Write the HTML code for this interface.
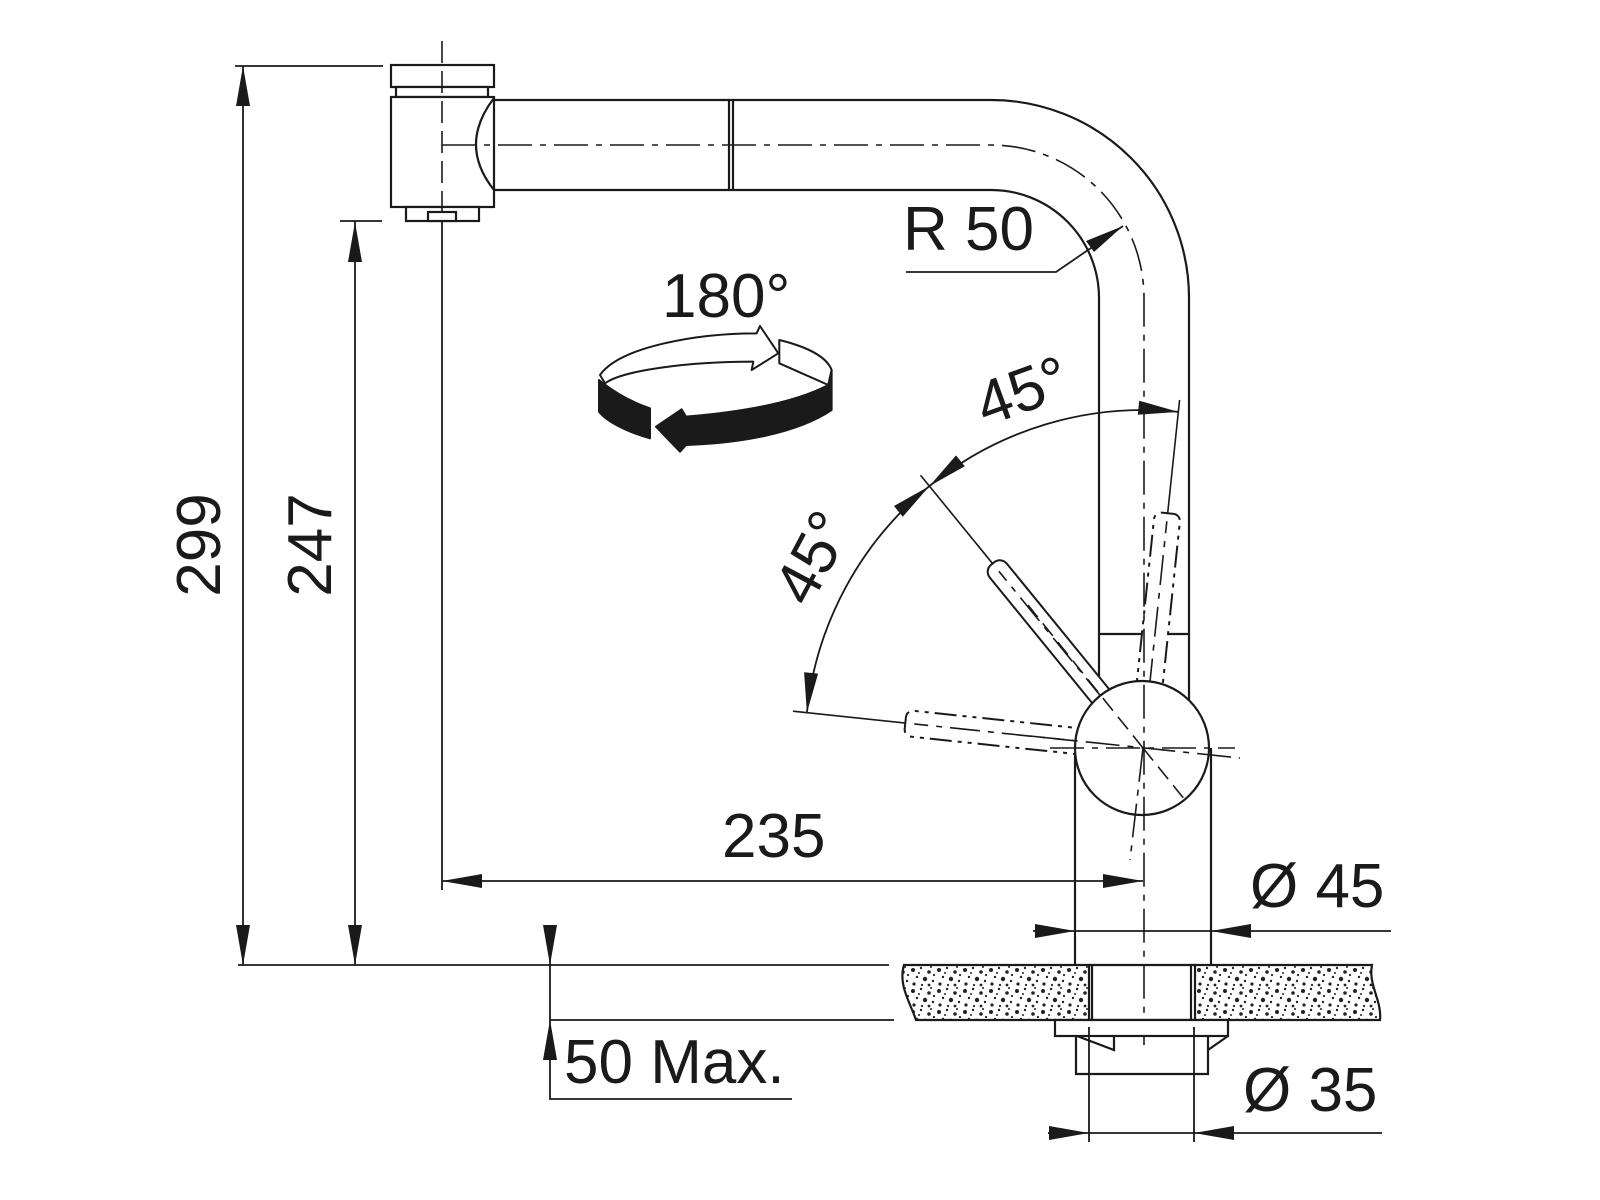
<!DOCTYPE html>
<html><head><meta charset="utf-8"><style>
html,body{margin:0;padding:0;background:#fff;width:1600px;height:1200px;overflow:hidden}
svg{display:block}
text{font-family:"Liberation Sans",Arial,sans-serif;fill:#1a1a1a}
</style></head><body>
<svg width="1600" height="1200" viewBox="0 0 1600 1200" xmlns="http://www.w3.org/2000/svg">
<defs>
<pattern id="sp" width="26" height="21" patternUnits="userSpaceOnUse">
<rect width="26" height="21" fill="#fff"/>
<circle cx="3" cy="4" r="2" fill="#222"/><circle cx="11" cy="2" r="1.2" fill="#222"/>
<circle cx="19" cy="6" r="1.8" fill="#222"/><circle cx="7" cy="11" r="1.2" fill="#222"/>
<circle cx="15" cy="13" r="2.2" fill="#222"/><circle cx="23" cy="15" r="1.2" fill="#222"/>
<circle cx="4" cy="18" r="1.6" fill="#222"/><circle cx="12" cy="19" r="1.1" fill="#222"/>
<circle cx="21" cy="1" r="1" fill="#222"/><circle cx="24" cy="9" r="1.1" fill="#222"/>
<circle cx="9" cy="7" r="1" fill="#222"/><circle cx="19" cy="19" r="1.4" fill="#222"/>
</pattern>
</defs>
<g stroke="#1a1a1a" fill="none" stroke-width="2.2">
<rect x="391" y="65" width="103" height="22" fill="#fff"/>
<rect x="396" y="87" width="92" height="10" fill="#fff"/>
<rect x="391" y="97" width="103" height="110" fill="#fff"/>
<rect x="406" y="207" width="73" height="14" fill="#fff"/>
<rect x="428" y="212" width="28" height="9" fill="#fff"/>
<path d="M494,98 Q458,145 494,190"/>
<path d="M494,100 H991 A198,198 0 0 1 1189,298 V700"/>
<path d="M494,190 H991 A108,108 0 0 1 1099,298 V692"/>
<path d="M729,100 V190 M733,100 V190"/>
<path d="M1099,634 H1189"/>
<path d="M1075,748 V965 M1211,748 V965"/>
</g>
<g stroke="#1a1a1a" fill="#fff" stroke-width="2">
<g transform="translate(1143,748) rotate(-129.2)">
<rect x="40" y="-11" width="198" height="22" rx="9"/>
<line x1="60" y1="0" x2="228" y2="0" stroke-dasharray="30 8 6 8" stroke-width="1.6"/>
<line x1="238" y1="0" x2="352" y2="0" stroke-width="1.6"/>
</g>
<g transform="translate(1143,748) rotate(-174)">
<rect x="40" y="-13" width="199" height="26" rx="7" stroke-dasharray="22 6 4 6 4 6"/>
<line x1="60" y1="0" x2="230" y2="0" stroke-dasharray="30 8 6 8" stroke-width="1.6"/>
<line x1="239" y1="0" x2="352" y2="0" stroke-width="1.6"/>
</g>
<g transform="translate(1143,748) rotate(-84)">
<rect x="40" y="-13" width="196" height="26" rx="7" stroke-dasharray="22 6 4 6 4 6"/>
<line x1="60" y1="0" x2="228" y2="0" stroke-dasharray="30 8 6 8" stroke-width="1.6"/>
<line x1="236" y1="0" x2="350" y2="0" stroke-width="1.6"/>
</g>
</g>
<circle cx="1142" cy="748" r="67" fill="#fff" stroke="#1a1a1a" stroke-width="2.2"/>
<g stroke="#1a1a1a" fill="none" stroke-width="1.6" stroke-dasharray="34 8 6 8">
<path d="M442,145 H991 A153,153 0 0 1 1144,298 V1045"/>
<path d="M442,41 V221" stroke-dasharray="22 8"/>
<path d="M1050,748 H1235"/>
<path d="M1030,736 L1240,758"/>
<path d="M1143,748 L1185,800" stroke-dasharray="16 8"/>
<path d="M1143,748 L1028,605" stroke-dasharray="16 8"/>
<path d="M1143,748 L1130,860"/>
</g>
<g stroke="#1a1a1a" stroke-width="2.2">
<path d="M904,965 H1089 V1020 H916 C910,1002 898,985 904,965 Z" fill="url(#sp)"/>
<path d="M1195,965 H1372 C1368,985 1382,1000 1380,1020 H1195 Z" fill="url(#sp)"/>
<path d="M1089,965 H1195 M1092,965 V1020 M1191,965 V1020 M1089,1020 H1195" fill="none"/>
<rect x="1055" y="1020" width="173" height="16" fill="#fff"/>
<path d="M1076,1036 V1074 H1208 V1036 M1077,1036 L1114,1050 V1036 M1208,1050 L1228,1036" fill="none"/>
</g>
<g stroke="#1a1a1a" stroke-width="1.8" fill="none">
<path d="M235,66 H383 M243,66 V965"/>
<path d="M340,221 H382 M355,221 V965"/>
<path d="M238,965 H889 M550,1020 H894"/>
<path d="M442,221 V890 M442,881 H1143"/>
<path d="M550,930 V1099 H792"/>
<path d="M1033,931 H1391 M1048,1133 H1382 M1089,1027 V1142 M1194,1027 V1142"/>
<path d="M906,272 H1056 L1123,226"/>
<path d="M929.4,486.1 A338,338 0 0 1 1178.3,411.9"/>
<path d="M929.4,486.1 A338,338 0 0 0 806.9,712.7"/>
</g>
<g fill="#1a1a1a" stroke="none">
<polygon points="243,66 236,106 250,106"/>
<polygon points="243,965 236,925 250,925"/>
<polygon points="355,222 348,262 362,262"/>
<polygon points="355,965 348,925 362,925"/>
<polygon points="550,965 543,925 557,925"/>
<polygon points="550,1020 543,1060 557,1060"/>
<polygon points="442,881 482,874 482,888"/>
<polygon points="1143,881 1103,874 1103,888"/>
<polygon points="1075,931 1035,924 1035,938"/>
<polygon points="1211,931 1251,924 1251,938"/>
<polygon points="1089,1133 1049,1126 1049,1140"/>
<polygon points="1194,1133 1234,1126 1234,1140"/>
<polygon points="1123,226 1086,241 1094,252"/>
<polygon points="1178.3,411.9 1137.8,414.7 1139.2,400.7"/>
<polygon points="929.4,486.1 964.8,466.2 956.0,455.4"/>
<polygon points="929.4,486.1 902.8,516.8 894.0,506.0"/>
<polygon points="806.9,712.7 818.1,673.6 804.1,672.2"/>
</g>
<g transform="translate(580,320) scale(0.3333)" stroke="#1a1a1a" stroke-width="6" stroke-linejoin="round">
<path d="M60,165 C120,80 350,40 530,40 L540,18 L595,100 L515,150 L520,125 C330,125 130,150 75,190 Z" fill="#fff"/>
<path d="M598,60 C680,80 740,110 755,150 L745,195 L598,130 Z" fill="#fff"/>
<path d="M57,180 C100,215 150,245 210,265 L210,355 C140,335 80,305 57,275 Z" fill="#1a1a1a"/>
<path d="M228,320 L305,268 L318,290 C500,275 650,245 745,195 L755,150 L755,270 C650,340 480,370 318,375 L300,395 Z" fill="#1a1a1a"/>
</g>
<g font-size="62">
<text x="662" y="317">180°</text>
<text x="903" y="250">R 50</text>
<text x="722" y="857">235</text>
<text x="1250" y="907">Ø 45</text>
<text x="1243" y="1111">Ø 35</text>
<text x="564" y="1083">50 Max.</text>
<text transform="translate(1022,390) rotate(-20)" text-anchor="middle" y="22">45°</text>
<text transform="translate(812,557) rotate(-62)" text-anchor="middle" y="22">45°</text>
<text transform="translate(198,545) rotate(-90)" text-anchor="middle" y="22">299</text>
<text transform="translate(309,545) rotate(-90)" text-anchor="middle" y="22">247</text>
</g>
</svg>
</body></html>
